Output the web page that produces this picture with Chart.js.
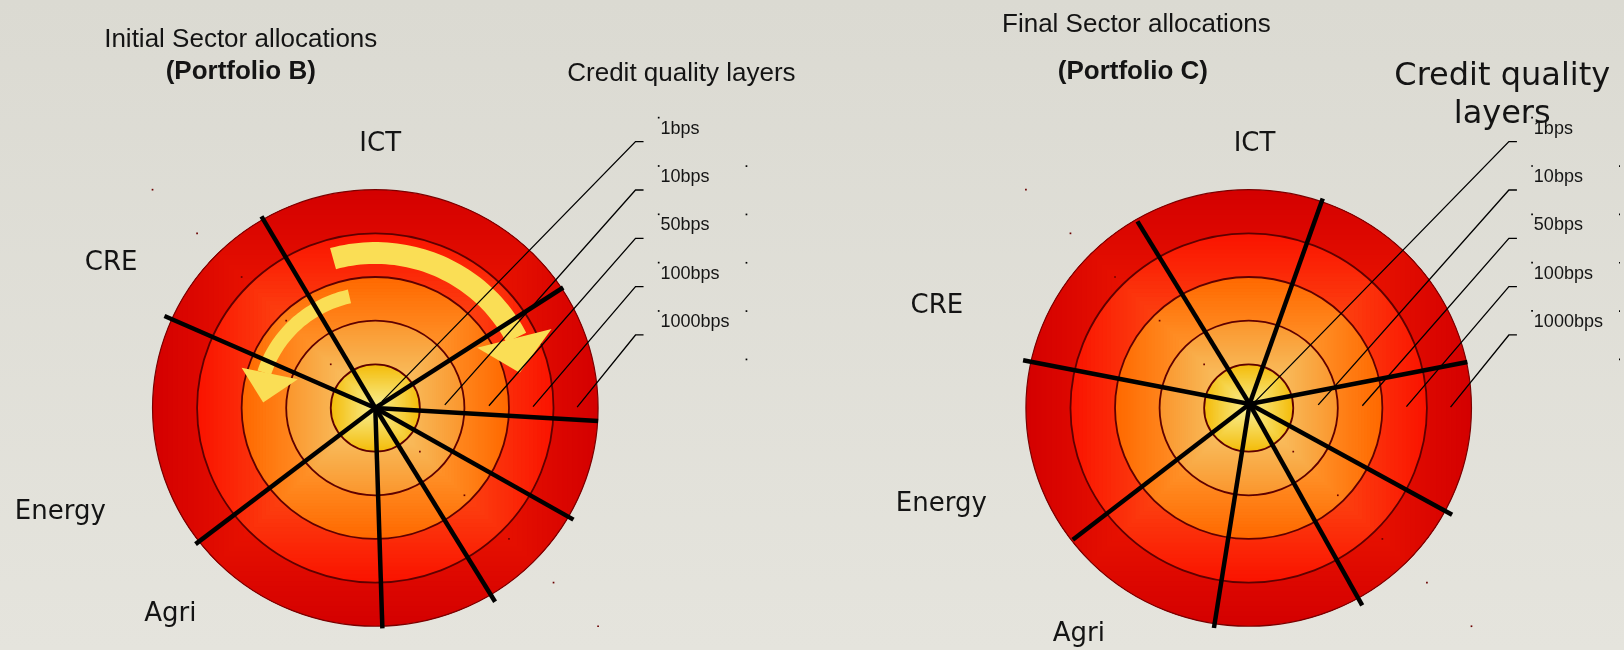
<!DOCTYPE html>
<html>
<head>
<meta charset="utf-8">
<title>Sector allocations</title>
<script src="https://cdn.jsdelivr.net/npm/chart.js@4.4.1/dist/chart.umd.min.js"></script>
<style>
  html, body { margin: 0; padding: 0; }
  body {
    width: 1624px; height: 650px; overflow: hidden; position: relative;
    background: linear-gradient(#dbdad2, #e5e4dd);
  }
  .panel { position: absolute; top: 0; width: 812px; height: 650px; }
</style>
</head>
<body>
<div class="panel" style="left:0"><canvas id="chartB"></canvas></div>
<div class="panel" style="left:812px"><canvas id="chartC"></canvas></div>
<script>
'use strict';

// credit quality layers, innermost ring first
var layers = ['1bps', '10bps', '50bps', '100bps', '1000bps'];
var ringRadius = [1, 2, 3, 4, 5];
var sectors = ['ICT', 'CRE', 'Energy', 'Agri'];

// sector boundaries: degrees counter-clockwise from east, length in ring units
var spokeAnglesB = [120.2, 156.0, 217.7, 271.8, 301.2, 330.1, 356.6, 33.2];
var spokeLengthsB = [5.08, 5.18, 5.10, 5.05, 5.19, 5.13, 5.01, 5.04];
var spokeAnglesC = [120.3, 70.9, 167.8, 12.1, 331.8, 299.4, 261.2, 217.4];
var spokeLengthsC = [4.95, 5.08, 5.18, 5.02, 5.18, 5.19, 5.10, 4.97];

// where each layer's leader line lands inside the target
var leaderEnds = [[0.15, 0.15], [1.56, 0.07], [2.55, 0.05], [3.54, 0.03], [4.53, 0.02]];

// disc fills, centre colour then edge colour
var discColors = [
  [[248, 240, 150], [244, 188, 10]],
  [[248, 210, 120], [250, 150, 45]],
  [[255, 185, 80], [255, 105, 0]],
  [[255, 115, 35], [250, 20, 0]],
  [[255, 40, 0], [212, 0, 0]]
];

var PX_X = 45, PX_Y = 44.2;   // pixels per ring unit
var legendTop = 6.10, legendStep = 1.107;

var panelB = {
  cx: 375, cy: 409,
  hub: [0, 0],
  angles: spokeAnglesB, lengths: spokeLengthsB,
  arrows: [
    { from: 105.5, to: 27, r: 3.55, w: 0.5, head: [[31.1, 2.67], [24.6, 4.35], [14.0, 3.34]] },
    { from: 102.8, to: 162, r: 2.62, w: 0.32, head: [[159.3, 1.86], [162.9, 3.14], [177.1, 2.52]] }
  ],
  texts: [
    { t: 'Initial Sector allocations', x: -3.02, y: 8.258, font: '26px "Liberation Sans"' },
    { t: '(Portfolio B)', x: -3.02, y: 7.534, font: 'bold 26px "Liberation Sans"' },
    { t: 'Credit quality layers', x: 6.87, y: 7.48, font: '26px "Liberation Sans"' }
  ],
  sectorPos: [[0.11, 5.882], [-5.93, 3.16], [-7.07, -2.55], [-4.6, -4.887]]
};

var panelC = {
  cx: 437, cy: 409,
  hub: [0.02, 0.09],
  angles: spokeAnglesC, lengths: spokeLengthsC,
  arrows: [],
  texts: [
    { t: 'Final Sector allocations', x: -2.52, y: 8.613, font: '26px "Liberation Sans"' },
    { t: '(Portfolio C)', x: -2.6, y: 7.534, font: 'bold 26px "Liberation Sans"' },
    { t: 'Credit quality', x: 5.69, y: 7.405, font: '32px "DejaVu Sans"' },
    { t: 'layers', x: 5.69, y: 6.538, font: '32px "DejaVu Sans"' }
  ],
  sectorPos: [[0.13, 5.882], [-7.0, 2.165], [-6.9, -2.36], [-3.81, -5.34]]
};

function mix(a, b, t) {
  return 'rgb(' + Math.round(a[0] + (b[0] - a[0]) * t) + ',' +
    Math.round(a[1] + (b[1] - a[1]) * t) + ',' +
    Math.round(a[2] + (b[2] - a[2]) * t) + ')';
}

function polar(deg, r) {
  var a = deg * Math.PI / 180;
  return { x: r * Math.cos(a), y: r * Math.sin(a) };
}

var targetPlugin = {
  id: 'target',
  beforeDatasetsDraw: function (chart) {
    var p = chart.config.options.panel;
    var ctx = chart.ctx, xs = chart.scales.x, ys = chart.scales.y;
    var cx = xs.getPixelForValue(0), cy = ys.getPixelForValue(0);
    var i, k;

    // stacked discs, each with a stepped square gradient
    for (k = ringRadius.length - 1; k >= 0; k--) {
      var rx = xs.getPixelForValue(ringRadius[k]) - cx;
      var ry = cy - ys.getPixelForValue(ringRadius[k]);
      ctx.save();
      ctx.beginPath();
      ctx.ellipse(cx, cy, rx, ry, 0, 0, Math.PI * 2);
      ctx.clip();
      var steps = 44;
      for (i = steps; i >= 1; i--) {
        var t = i / steps;
        ctx.fillStyle = mix(discColors[k][0], discColors[k][1], t);
        ctx.fillRect(cx - rx * t, cy - ry * t, 2 * rx * t, 2 * ry * t);
      }
      ctx.restore();
      ctx.beginPath();
      ctx.ellipse(cx, cy, rx, ry, 0, 0, Math.PI * 2);
      ctx.strokeStyle = k === ringRadius.length - 1 ? '#7a0000' : '#5e0000';
      ctx.lineWidth = k === ringRadius.length - 1 ? 1.2 : 1.8;
      ctx.stroke();
    }

    // curved yellow arrows
    function px(pt) { return [xs.getPixelForValue(pt.x), ys.getPixelForValue(pt.y)]; }
    p.arrows.forEach(function (a) {
      var n = 48, pts = [];
      for (i = 0; i <= n; i++) pts.push(px(polar(a.from + (a.to - a.from) * i / n, a.r + a.w / 2)));
      for (i = n; i >= 0; i--) pts.push(px(polar(a.from + (a.to - a.from) * i / n, a.r - a.w / 2)));
      ctx.fillStyle = '#fade55';
      ctx.beginPath();
      pts.forEach(function (q, j) { if (j) ctx.lineTo(q[0], q[1]); else ctx.moveTo(q[0], q[1]); });
      ctx.closePath();
      ctx.fill();
      ctx.beginPath();
      a.head.forEach(function (h, j) {
        var q = px(polar(h[0], h[1]));
        if (j) ctx.lineTo(q[0], q[1]); else ctx.moveTo(q[0], q[1]);
      });
      ctx.closePath();
      ctx.fill();
    });
  },
  afterDraw: function (chart) {
    var p = chart.config.options.panel;
    var ctx = chart.ctx, xs = chart.scales.x, ys = chart.scales.y;
    ctx.save();
    ctx.fillStyle = '#141414';
    ctx.textBaseline = 'alphabetic';
    ctx.textAlign = 'center';
    p.texts.forEach(function (tx) {
      ctx.font = tx.font;
      ctx.fillText(tx.t, xs.getPixelForValue(tx.x), ys.getPixelForValue(tx.y));
    });
    ctx.font = '26px "DejaVu Sans"';
    sectors.forEach(function (s, i) {
      ctx.fillText(s, xs.getPixelForValue(p.sectorPos[i][0]), ys.getPixelForValue(p.sectorPos[i][1]));
    });
    ctx.textAlign = 'left';
    ctx.font = '18px "Liberation Sans"';
    layers.forEach(function (l, i) {
      var y = legendTop - legendStep * i;
      ctx.fillText(l, xs.getPixelForValue(6.4), ys.getPixelForValue(y + 0.18));
    });
    ctx.restore();
  }
};

function makePanel(id, p) {
  var datasets = [];

  // sector spokes
  p.angles.forEach(function (a, i) {
    datasets.push({
      data: [{ x: p.hub[0], y: p.hub[1] }, polar(a, p.lengths[i])],
      showLine: true, borderColor: '#000', borderWidth: 4.5, pointRadius: 0
    });
  });

  // leader lines from each layer to its legend row
  layers.forEach(function (l, i) {
    var y = legendTop - legendStep * i;
    datasets.push({
      label: l,
      data: [{ x: leaderEnds[i][0], y: leaderEnds[i][1] }, { x: 5.84, y: y }, { x: 6.02, y: y }],
      showLine: true, borderColor: '#000', borderWidth: 1.3, pointRadius: 0
    });
  });

  // corner marks of each ring's bounding box
  var corners = [];
  ringRadius.forEach(function (r) {
    corners.push({ x: -r, y: r });
    corners.push({ x: r, y: -r });
  });
  datasets.push({
    data: corners, pointStyle: 'rect', pointRadius: 1.2,
    pointBackgroundColor: '#6a0000', pointBorderWidth: 0
  });

  // corner marks of the legend text boxes
  var boxes = [];
  layers.forEach(function (l, i) {
    var y = legendTop - legendStep * i;
    boxes.push({ x: 6.36, y: y + 0.55 });
    boxes.push({ x: 8.33, y: y - 0.56 });
  });
  datasets.push({
    data: boxes, pointStyle: 'rect', pointRadius: 1.2,
    pointBackgroundColor: '#000', pointBorderWidth: 0
  });

  return new Chart(document.getElementById(id).getContext('2d'), {
    type: 'scatter',
    data: { datasets: datasets },
    options: {
      panel: p,
      responsive: true,
      maintainAspectRatio: false,
      animation: false,
      events: [],
      layout: { padding: 0 },
      plugins: { legend: { display: false }, tooltip: { enabled: false } },
      scales: {
        x: { type: 'linear', display: false, min: -p.cx / PX_X, max: (812 - p.cx) / PX_X },
        y: { type: 'linear', display: false, min: -(650 - p.cy) / PX_Y, max: p.cy / PX_Y }
      }
    },
    plugins: [targetPlugin]
  });
}

makePanel('chartB', panelB);
makePanel('chartC', panelC);
</script>
</body>
</html>
